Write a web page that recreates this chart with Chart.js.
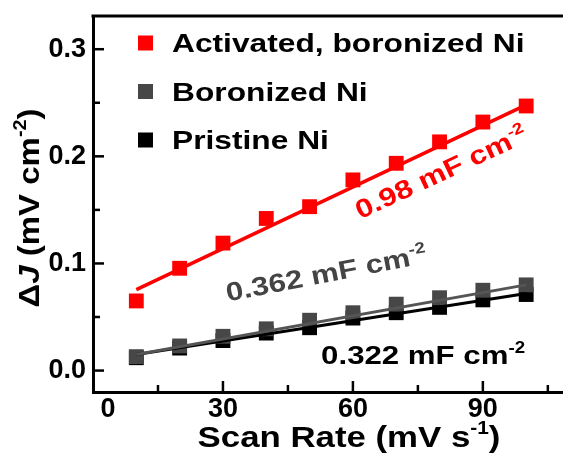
<!DOCTYPE html>
<html>
<head>
<meta charset="utf-8">
<script src="https://cdn.jsdelivr.net/npm/chart.js@4.4.1/dist/chart.umd.min.js"></script>
<style>
  html, body { margin: 0; padding: 0; background: #fff; }
  #wrap { width: 563px; height: 457px; }
</style>
</head>
<body>
<div id="wrap"><canvas id="cdl-chart"></canvas></div>
<script>
// Scan rate (mV s-1) vs delta J (mV cm-2)
const scanRates = [10, 20, 30, 40, 50, 60, 70, 80, 90, 100];
const activatedJ = [0.065, 0.0955, 0.119, 0.142, 0.153, 0.178, 0.1935, 0.2135, 0.232, 0.247];
const boronizedJ = [0.013, 0.023, 0.032, 0.039, 0.047, 0.054, 0.062, 0.068, 0.075, 0.080];
const pristineJ = [0.012, 0.021, 0.028, 0.035, 0.040, 0.049, 0.054, 0.059, 0.066, 0.071];

// linear fit lines, end points
const fitX = [10, 100];
const activatedFit = [0.0755, 0.248];
const boronizedFit = [0.015, 0.080];
const pristineFit = [0.015, 0.072];

const seriesNames = ['Activated, boronized Ni', 'Boronized Ni', 'Pristine Ni'];
const seriesColors = ['#ff0000', '#474747', '#000000'];
const slopeTexts = ['0.98 mF cm', '0.362 mF cm', '0.322 mF cm'];

const FONT = "'Liberation Sans', Arial, sans-serif";

function pts(xs, ys) {
    return xs.map((x, i) => ({ x: x, y: ys[i] }));
}

// draws text made of parts (normal / superscript / italic), centred or left aligned
function drawRich(ctx, parts, size, color, x, y, angle, sx, align) {
    const fontOf = p => (p.italic ? 'italic ' : '') + 'bold ' + (p.sup ? size * 0.6 : size) + 'px ' + FONT;
    ctx.save();
    ctx.translate(x, y);
    ctx.rotate(angle * Math.PI / 180);
    ctx.scale(sx, 1);
    ctx.fillStyle = color;
    ctx.textBaseline = 'alphabetic';
    ctx.textAlign = 'left';
    let total = 0;
    parts.forEach(p => { ctx.font = fontOf(p); total += ctx.measureText(p.t).width; });
    let cx = align === 'left' ? 0 : -total / 2;
    parts.forEach(p => {
        ctx.font = fontOf(p);
        ctx.fillText(p.t, cx, p.sup ? size * -0.06 : size * 0.35);
        cx += ctx.measureText(p.t).width;
    });
    ctx.restore();
}

// no extra label padding, keeps the plot box where the figure has it
function noPad(s) {
    s.paddingTop = 0;
    s.paddingBottom = 0;
    s.paddingLeft = 0;
    s.paddingRight = 0;
}

const decorations = {
    id: 'decorations',
    afterDraw(chart) {
        const { ctx, chartArea: a, scales: { x, y } } = chart;
        ctx.save();
        // top frame line
        ctx.strokeStyle = '#000';
        ctx.lineWidth = 3;
        ctx.beginPath();
        ctx.moveTo(a.left - 1.5, a.top);
        ctx.lineTo(a.right, a.top);
        ctx.stroke();

        // inward ticks
        ctx.lineWidth = 2.5;
        x.ticks.forEach(t => {
            if (t.value === 0) return;
            const px = x.getPixelForValue(t.value);
            const len = Math.round(t.value) % 30 === 0 ? 11 : 7;
            ctx.beginPath();
            ctx.moveTo(px, a.bottom);
            ctx.lineTo(px, a.bottom - len);
            ctx.stroke();
        });
        y.ticks.forEach(t => {
            const py = y.getPixelForValue(t.value);
            const len = Math.round(t.value * 100) % 10 === 0 ? 11 : 7;
            ctx.beginPath();
            ctx.moveTo(a.left, py);
            ctx.lineTo(a.left + len, py);
            ctx.stroke();
        });
        ctx.restore();

        // legend
        seriesNames.forEach((name, i) => {
            const cy = a.top + 27 + i * 48.5;
            ctx.fillStyle = seriesColors[i];
            ctx.fillRect(a.left + 45, cy - 7.5, 15, 15);
            drawRich(ctx, [{ t: name }], 26, '#000', a.left + 79, cy, 0, 1.22, 'left');
        });

        // slope labels
        drawRich(ctx, [{ t: slopeTexts[0] }, { t: '-2', sup: true }], 26, seriesColors[0],
            x.getPixelForValue(80.3), y.getPixelForValue(0.1855), -25, 1.2, 'center');
        drawRich(ctx, [{ t: slopeTexts[1] }, { t: '-2', sup: true }], 26, '#444444',
            x.getPixelForValue(53.8), y.getPixelForValue(0.091), -11, 1.2, 'center');
        drawRich(ctx, [{ t: slopeTexts[2] }, { t: '-2', sup: true }], 26, '#000',
            x.getPixelForValue(76.2), y.getPixelForValue(0.0145), 0, 1.2, 'center');

        // axis titles
        drawRich(ctx, [{ t: 'Scan Rate (mV s' }, { t: '-1', sup: true }, { t: ')' }], 30, '#000',
            349, 436, 0, 1.16, 'center');
        drawRich(ctx, [{ t: '\u0394' }, { t: 'J', italic: true }, { t: ' (mV cm' }, { t: '-2', sup: true }, { t: ')' }], 30, '#000',
            28, 208, -90, 1.1, 'center');
    }
};

const tickFont = { family: FONT, size: 27, weight: 'bold' };

new Chart(document.getElementById('cdl-chart'), {
    type: 'scatter',
    data: {
        datasets: [
            { label: seriesNames[0], data: pts(scanRates, activatedJ), backgroundColor: seriesColors[0], borderColor: seriesColors[0],
              pointStyle: 'rect', pointRadius: 10.5, borderWidth: 0, order: 2 },
            { label: 'fit1', type: 'line', data: pts(fitX, activatedFit), borderColor: seriesColors[0], borderWidth: 3.5,
              pointRadius: 0, fill: false, order: 1 },
            { label: seriesNames[1], data: pts(scanRates, boronizedJ), backgroundColor: seriesColors[1], borderColor: seriesColors[1],
              pointStyle: 'rect', pointRadius: 10.5, borderWidth: 0, order: 5 },
            { label: seriesNames[2], data: pts(scanRates, pristineJ), backgroundColor: seriesColors[2], borderColor: seriesColors[2],
              pointStyle: 'rect', pointRadius: 10.5, borderWidth: 0, order: 6 },
            { label: 'fit3', type: 'line', data: pts(fitX, pristineFit), borderColor: '#000', borderWidth: 3,
              pointRadius: 0, fill: false, order: 4 },
            { label: 'fit2', type: 'line', data: pts(fitX, boronizedFit), borderColor: '#555555', borderWidth: 3,
              pointRadius: 0, fill: false, order: 3 }
        ]
    },
    options: {
        responsive: true,
        maintainAspectRatio: false,
        animation: false,
        devicePixelRatio: 1,
        layout: { autoPadding: false, padding: { top: 16, right: 0, left: 0, bottom: 0 } },
        plugins: { legend: { display: false }, tooltip: { enabled: false } },
        scales: {
            x: {
                type: 'linear', min: 0, max: 108.5,
                afterFit: s => { s.height = 65; noPad(s); },
                grid: { display: false, drawTicks: false },
                border: { display: true, color: '#000', width: 3 },
                ticks: {
                    stepSize: 15, includeBounds: false, autoSkip: false, maxRotation: 0,
                    padding: 1, color: '#000', font: tickFont,
                    callback: v => (Math.round(v) % 30 === 0 ? (v === 0 ? '    0' : String(v)) : '')
                }
            },
            y: {
                type: 'linear', min: -0.02, max: 0.331,
                afterFit: s => { s.width = 93; noPad(s); },
                grid: { display: false, drawTicks: false },
                border: { display: true, color: '#000', width: 3 },
                ticks: {
                    stepSize: 0.05, includeBounds: false, autoSkip: false,
                    padding: 7, color: '#000', font: tickFont,
                    callback: v => {
                        const r = Math.round(v * 100);
                        return r % 10 === 0 ? (r / 100).toFixed(1) : '';
                    }
                }
            }
        }
    },
    plugins: [decorations]
});
</script>
</body>
</html>
